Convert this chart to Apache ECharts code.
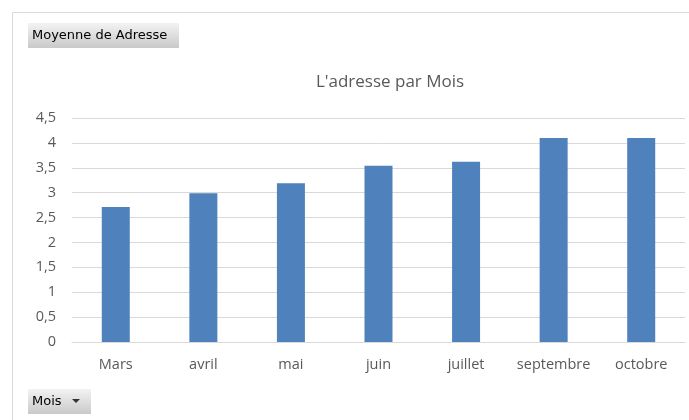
<!DOCTYPE html>
<html>
<head>
<meta charset="utf-8">
<script src="https://cdn.jsdelivr.net/npm/echarts@6/dist/echarts.min.js"></script>
<style>
  html, body { margin: 0; padding: 0; background: #fff; }
  #chart { width: 689px; height: 420px; }
</style>
</head>
<body>
<div id="chart"></div>
<script>
// données
var mois = ['Mars', 'avril', 'mai', 'juin', 'juillet', 'septembre', 'octobre']
var moyenneAdresse = [2.71, 2.99, 3.19, 3.54, 3.62, 4.1, 4.1]

var myChart = echarts.init(document.getElementById('chart'))

// bouton gris façon tableau croisé
function bouton (x, y, w, h, label) {
  return {
    type: 'group',
    left: x,
    top: y,
    children: [
      {
        type: 'rect',
        shape: { x: 0, y: 0, width: w, height: h },
        style: {
          fill: new echarts.graphic.LinearGradient(0, 0, 0, 1, [
            { offset: 0, color: '#f3f3f3' },
            { offset: 1, color: '#c9c9c9' }
          ])
        }
      },
      {
        type: 'text',
        x: 4,
        y: h / 2,
        style: {
          text: label,
          fill: '#000',
          font: '13px "DejaVu Sans"',
          verticalAlign: 'middle'
        }
      }
    ]
  }
}

var options = {
  animation: false,
  title: {
    text: "L'adresse par Mois",
    left: 385,
    textAlign: 'center',
    top: 69,
    textStyle: {
      color: '#595959',
      fontFamily: 'Open Sans',
      fontWeight: 'normal',
      fontSize: 17
    }
  },
  grid: {
    left: 72,
    right: 4,
    top: 118,
    bottom: 78
  },
  xAxis: {
    type: 'category',
    data: mois,
    axisLine: { lineStyle: { color: '#d9d9d9' } },
    axisTick: { show: false },
    axisLabel: {
      interval: 0,
      color: '#595959',
      fontFamily: 'Open Sans',
      fontSize: 14.5,
      margin: 15
    }
  },
  yAxis: {
    type: 'value',
    min: 0,
    max: 4.5,
    interval: 0.5,
    axisLine: { show: false },
    axisTick: { show: false },
    axisLabel: {
      color: '#595959',
      fontFamily: 'Open Sans',
      fontSize: 14.5,
      margin: 16,
      formatter: function (v) { return String(v).replace('.', ',') }
    },
    splitLine: { lineStyle: { color: '#d9d9d9', width: 1 } }
  },
  series: [
    {
      type: 'bar',
      data: moyenneAdresse,
      barWidth: 28,
      itemStyle: { color: '#4f81bd' }
    }
  ],
  graphic: [
    {
      type: 'polyline',
      shape: { points: [[12.5, 420], [12.5, 12.5], [689, 12.5]] },
      style: { stroke: '#d9d9d9', lineWidth: 1, fill: null }
    },
    bouton(28, 23, 151, 25, 'Moyenne de Adresse'),
    bouton(28, 389, 63, 25, 'Mois'),
    {
      type: 'polygon',
      shape: { points: [[72, 399], [80, 399], [76, 403]] },
      style: { fill: '#333' }
    }
  ]
}

myChart.setOption(options)
</script>
</body>
</html>
